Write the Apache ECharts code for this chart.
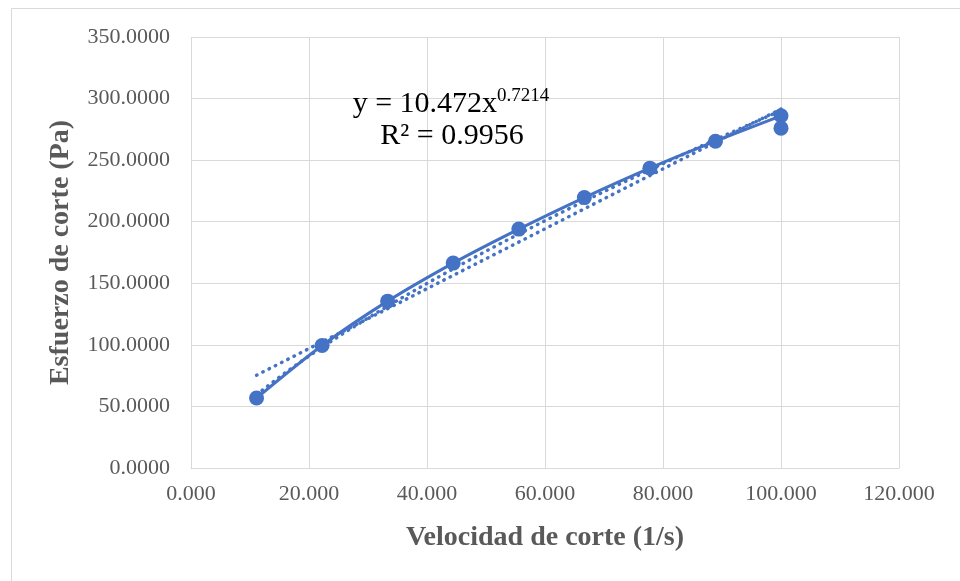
<!DOCTYPE html>
<html>
<head>
<meta charset="utf-8">
<script src="https://cdn.jsdelivr.net/npm/echarts@6/dist/echarts.min.js"></script>
<style>
  html, body { margin: 0; padding: 0; background: #fff; }
  #chart { width: 960px; height: 581px; }
</style>
</head>
<body>
<div id="chart"></div>
<script>
// Shear rate (1/s) and shear stress (Pa) measurements
const shearRate = [11.11, 22.22, 33.33, 44.44, 55.56, 66.67, 77.78, 88.89, 100.0, 100.0];
const shearStress = [56.8, 99.5, 135.5, 166.4, 194.0, 219.6, 243.5, 265.4, 286.0, 276.0];

// Power-law fit coefficients as reported: y = a * x^b
const powerCoef = [10.472, 0.7214];
const rSquared = '0.9956';

const xTicks = [0, 20, 40, 60, 80, 100, 120];
const yTicks = [0, 50, 100, 150, 200, 250, 300, 350];

const blue = '#4472C4';
const grey = '#595959';
const serif = '"Liberation Serif", "Times New Roman", serif';

// Ordinary least-squares straight line through the measurements
function linearFit(xs, ys) {
  const n = xs.length;
  let sx = 0, sy = 0, sxx = 0, sxy = 0;
  for (let i = 0; i < n; i++) {
    sx += xs[i]; sy += ys[i]; sxx += xs[i] * xs[i]; sxy += xs[i] * ys[i];
  }
  const m = (n * sxy - sx * sy) / (n * sxx - sx * sx);
  return [m, (sy - m * sx) / n];
}

const xMin = Math.min(...shearRate), xMax = Math.max(...shearRate);
const [slope, icpt] = linearFit(shearRate, shearStress);
const linearTrend = [[xMin, slope * xMin + icpt], [xMax, slope * xMax + icpt]];

// Power trend sampled along the measured range
const powerTrend = [];
for (let i = 0; i <= 60; i++) {
  const x = xMin + (xMax - xMin) * i / 60;
  powerTrend.push([x, powerCoef[0] * Math.pow(x, powerCoef[1])]);
}

const dotted = { color: blue, width: 3.5, type: [0.5, 6.5], cap: 'round' };

const chart = echarts.init(document.getElementById('chart'));
chart.setOption({
  animation: false,
  backgroundColor: '#fff',
  grid: { left: 191, right: 61, top: 37, bottom: 113 },
  xAxis: {
    type: 'value', min: xTicks[0], max: xTicks[xTicks.length - 1], interval: 20,
    name: 'Velocidad de corte (1/s)', nameLocation: 'middle', nameGap: 56,
    nameTextStyle: { fontFamily: serif, fontSize: 28, fontWeight: 'bold', color: grey },
    axisLine: { show: true, lineStyle: { color: '#d9d9d9', width: 1 } },
    axisTick: { show: false },
    axisLabel: { fontFamily: serif, fontSize: 22, color: grey, margin: 15,
      formatter: v => v.toFixed(3) },
    splitLine: { show: true, lineStyle: { color: '#d9d9d9', width: 1 } }
  },
  yAxis: {
    type: 'value', min: yTicks[0], max: yTicks[yTicks.length - 1], interval: 50,
    name: 'Esfuerzo de corte (Pa)', nameLocation: 'middle', nameGap: 116, nameRotate: 90,
    nameTextStyle: { fontFamily: serif, fontSize: 28, fontWeight: 'bold', color: grey },
    axisLine: { show: false },
    axisTick: { show: false },
    axisLabel: { fontFamily: serif, fontSize: 22, color: grey, margin: 21,
      formatter: v => v.toFixed(4) },
    splitLine: { show: true, lineStyle: { color: '#d9d9d9', width: 1 } }
  },
  series: [
    {
      type: 'line', data: linearTrend, showSymbol: false, z: 2,
      lineStyle: dotted
    },
    {
      type: 'line', data: powerTrend, showSymbol: false, z: 2,
      lineStyle: dotted
    },
    {
      type: 'line', data: shearRate.map((x, i) => [x, shearStress[i]]),
      smooth: 0.3, symbol: 'circle', symbolSize: 15, z: 3,
      lineStyle: { color: blue, width: 3 },
      itemStyle: { color: blue }
    }
  ],
  graphic: [
    {
      type: 'rect', silent: true, z: -1,
      shape: { x: 11.5, y: 8.5, width: 960, height: 600 },
      style: { fill: 'none', stroke: '#d9d9d9', lineWidth: 1 }
    },
    {
      type: 'text', z: 10,
      style: {
        x: 451, y: 120, align: 'center', verticalAlign: 'bottom',
        text: '{b|y = 10.472x}{s|' + powerCoef[1] + '}',
        rich: {
          b: { fontFamily: serif, fontSize: 30, fill: '#000', lineHeight: 32 },
          s: { fontFamily: serif, fontSize: 19, fill: '#000', lineHeight: 32, padding: [0, 0, 15, 0] }
        }
      }
    },
    {
      type: 'text', z: 10,
      style: {
        x: 452, y: 152, align: 'center', verticalAlign: 'bottom',
        text: 'R² = ' + rSquared,
        fontFamily: serif, fontSize: 30, fill: '#000', lineHeight: 32
      }
    }
  ]
});
</script>
</body>
</html>
